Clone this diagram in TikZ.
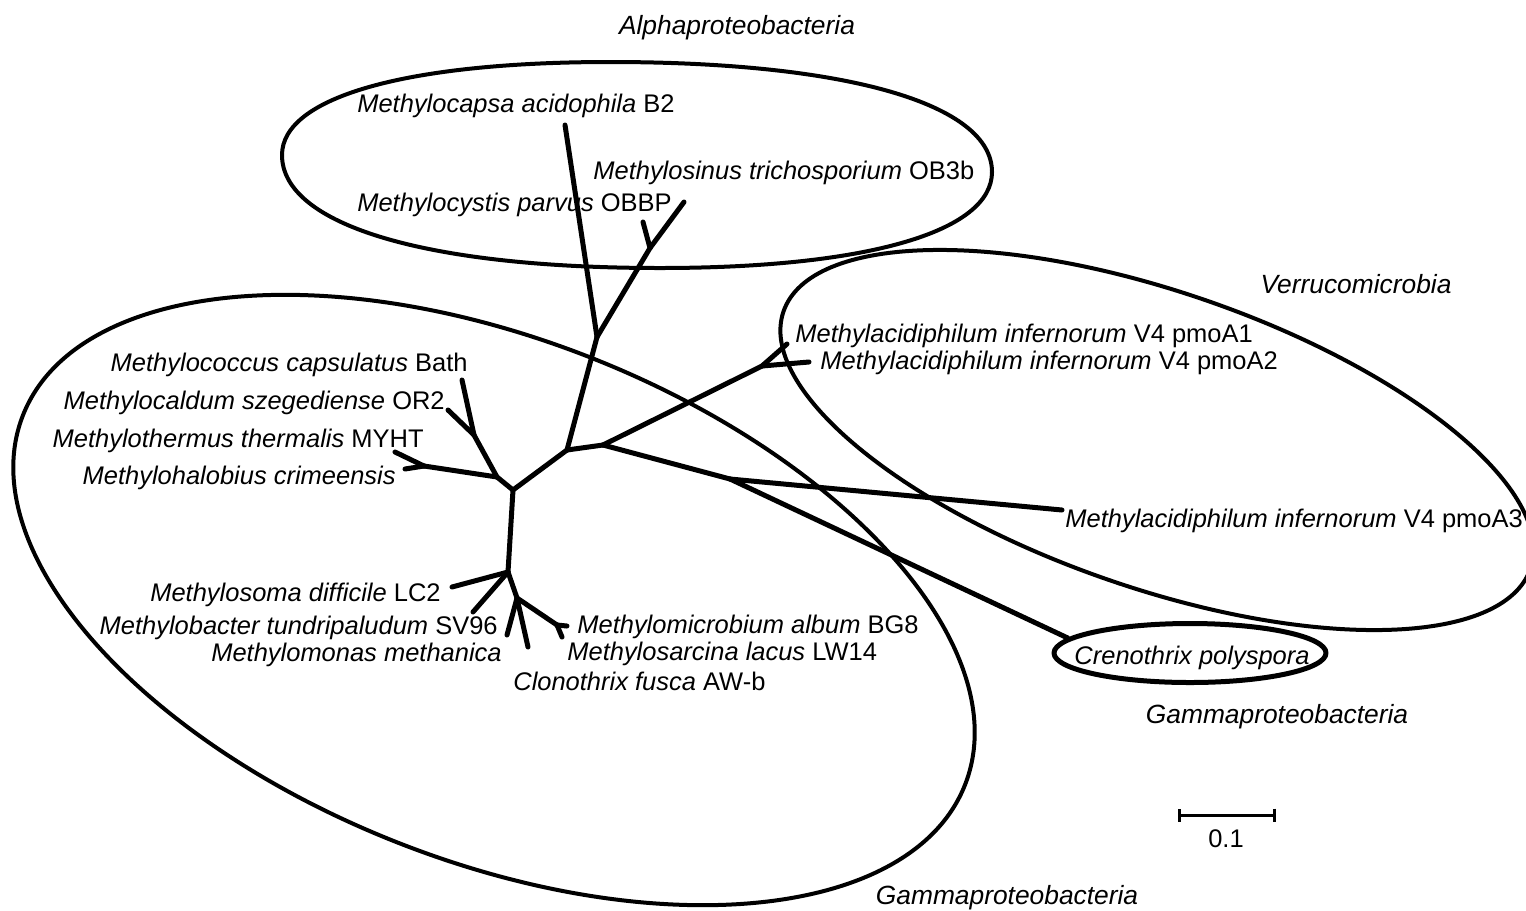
\documentclass[tikz,border=0pt]{standalone}
\usepackage{fontspec}
\setmainfont{Liberation Sans}
\usetikzlibrary{arrows.meta,shapes.geometric}

\begin{document}
\begin{tikzpicture}[
    x = 0.2mm, y = -0.2mm, % one unit per pixel, y going down
    line join = round,
    every node/.style = {font = \fontsize{14.5}{17}\selectfont, inner sep = 0pt}
    ]

    \tikzset{
    branch/.style = {line width = 1mm, line cap = round},
    clade/.style = {line width = 0.8mm},
    cladename/.style = {font = \fontsize{15}{18}\selectfont\itshape, anchor = base}
    }

    \useasboundingbox (0,0) rectangle (1526,910);

    % clade outlines
    \draw[clade] (282,155) .. controls (282,97) and (407,62) .. (610,62)
        .. controls (847,62) and (992,104) .. (992,172)
        .. controls (992,232) and (866,268) .. (660,268)
        .. controls (426,268) and (282,225) .. cycle;
    \draw[clade, rotate around = {-21.4:(494,600)}] (494,600) ellipse [x radius = 506, y radius = 261];
    \draw[clade, rotate around = {-19:(1157,440)}] (1157,440) ellipse [x radius = 395, y radius = 148];
    \node[draw, ellipse, line width = 1mm, minimum width = 54.4mm, minimum height = 11.8mm] (creno) at (1190,653) {};

    % tree points
    \coordinate (nA) at (567,450);
    \coordinate (nAl) at (597,337);
    \coordinate (nMs) at (650,248);
    \coordinate (tMcap) at (565,125);
    \coordinate (tMsin) at (684,202);
    \coordinate (tMcys) at (643,222);
    \coordinate (nV) at (603,445);
    \coordinate (nP) at (762,366);
    \coordinate (tP1) at (787,344);
    \coordinate (tP2) at (809,362);
    \coordinate (nW) at (730,479);
    \coordinate (tP3) at (1062,510);
    \coordinate (nG) at (513,490);
    \coordinate (nG2) at (497,477);
    \coordinate (nB1) at (424,466);
    \coordinate (tMthe) at (395,452);
    \coordinate (tMhal) at (405,469);
    \coordinate (nB2) at (474,435);
    \coordinate (tMcoc) at (462,380);
    \coordinate (tMcal) at (448,410);
    \coordinate (nG3) at (508,572);
    \coordinate (tLC2) at (452,587);
    \coordinate (tSV96) at (473,612);
    \coordinate (nC) at (517,598);
    \coordinate (tMmet) at (507,635);
    \coordinate (tClon) at (528,647);
    \coordinate (nD) at (557,625);
    \coordinate (tBG8) at (567,626);
    \coordinate (tLW14) at (562,637);

    % branches
    \path[branch] (nA) edge (nAl)
        (nAl) edge (tMcap)
        (nAl) edge (nMs)
        (nMs) edge (tMsin)
        (nMs) edge (tMcys);
    \path[branch] (nA) edge (nV)
        (nV) edge (nP)
        (nP) edge (tP1)
        (nP) edge (tP2)
        (nV) edge (nW)
        (nW) edge (tP3)
        (nW) edge (creno.173);
    \path[branch] (nA) edge (nG)
        (nG) edge (nG2)
        (nG2) edge (nB1)
        (nB1) edge (tMthe)
        (nB1) edge (tMhal)
        (nG2) edge (nB2)
        (nB2) edge (tMcoc)
        (nB2) edge (tMcal)
        (nG) edge (nG3)
        (nG3) edge (tLC2)
        (nG3) edge (tSV96)
        (nG3) edge (nC)
        (nC) edge (tMmet)
        (nC) edge (tClon)
        (nC) edge (nD)
        (nD) edge (tBG8)
        (nD) edge (tLW14);

    % taxa
    \node[anchor = base west] (lMcap) at (357,112) {\textit{Methylocapsa acidophila} B2};
    \node[anchor = base west] (lMsin) at (593,179) {\textit{Methylosinus trichosporium} OB3b};
    \node[anchor = base west] (lMcys) at (357,211) {\textit{Methylocystis parvus} OBBP};
    \node[anchor = base west] (lP1) at (795,342) {\textit{Methylacidiphilum infernorum} V4 pmoA1};
    \node[anchor = base west] (lP2) at (820,369) {\textit{Methylacidiphilum infernorum} V4 pmoA2};
    \node[anchor = base west] (lP3) at (1065,527) {\textit{Methylacidiphilum infernorum} V4 pmoA3};
    \node[anchor = base east] (lMcoc) at (468,371) {\textit{Methylococcus capsulatus} Bath};
    \node[anchor = base east] (lMcal) at (445,409) {\textit{Methylocaldum szegediense} OR2};
    \node[anchor = base east] (lMthe) at (424,447) {\textit{Methylothermus thermalis} MYHT};
    \node[anchor = base east] (lMhal) at (396,484) {\textit{Methylohalobius crimeensis}};
    \node[anchor = base east] (lLC2) at (441,601) {\textit{Methylosoma difficile} LC2};
    \node[anchor = base east] (lSV96) at (498,634) {\textit{Methylobacter tundripaludum} SV96};
    \node[anchor = base east] (lMmet) at (502,661) {\textit{Methylomonas methanica}};
    \node[anchor = base west] (lBG8) at (577,633) {\textit{Methylomicrobium album} BG8};
    \node[anchor = base west] (lLW14) at (567,660) {\textit{Methylosarcina lacus} LW14};
    \node[anchor = base west] (lClon) at (513,690) {\textit{Clonothrix fusca} AW-b};
    \node[anchor = base] (lCren) at (1192,664) {\textit{Crenothrix polyspora}};

    % clade names
    \node[cladename] (alpha) at (737,34) {Alphaproteobacteria};
    \node[cladename] (verru) at (1356,293) {Verrucomicrobia};
    \node[cladename] (gammaR) at (1277,723) {Gammaproteobacteria};
    \node[cladename] (gammaB) at (1007,904) {Gammaproteobacteria};

    % scale bar
    \coordinate (sbL) at (1178,815);
    \coordinate (sbR) at (1276,815);
    \draw[line width = 0.6mm, {Bar[width = 2.6mm]}-{Bar[width = 2.6mm]}] (sbL) -- (sbR);
    \node[anchor = base] (sbText) at (1226,847) {0.1};
\end{tikzpicture}
\end{document}
